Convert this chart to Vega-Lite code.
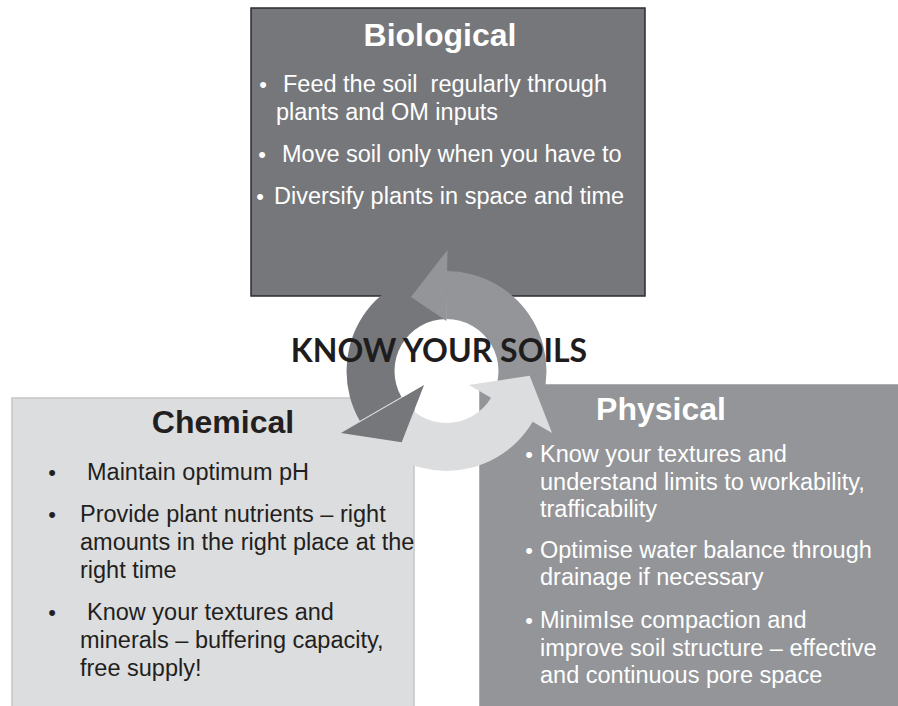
{
  "$schema": "https://vega.github.io/schema/vega-lite/v6.json",
  "width": 898,
  "height": 706,
  "autosize": "none",
  "padding": 0,
  "background": "#ffffff",
  "config": {"view": {"stroke": null}},
  "datasets": {
    "boxes": [
      {"box": "Biological", "x1": 251, "x2": 645, "y1": 8, "y2": 296},
      {"box": "Chemical", "x1": 12, "x2": 414, "y1": 398, "y2": 712},
      {"box": "Physical", "x1": 480, "x2": 904, "y1": 385, "y2": 712}
    ],
    "shafts": [
      {"arrow": "Dark", "cx": 446.5, "cy": 371, "start": 240, "end": 360, "outer": 100, "inner": 52},
      {"arrow": "Light", "cx": 446.5, "cy": 371, "start": 120, "end": 240, "outer": 100, "inner": 52},
      {"arrow": "Medium", "cx": 446.5, "cy": 371, "start": 0, "end": 120, "outer": 100, "inner": 52}
    ],
    "heads": [
      {"arrow": "Dark", "x": 382.5, "y": 409, "theta": 240},
      {"arrow": "Light", "x": 510.5, "y": 409, "theta": 120},
      {"arrow": "Medium", "x": 446.5, "y": 295, "theta": 360}
    ],
    "texts": [
      {"box": "Center", "role": "center", "label": "KNOW YOUR SOILS", "x": 439, "y": 362},
      {"box": "Biological", "role": "title", "label": "Biological", "x": 440, "y": 46},
      {"box": "Chemical", "role": "title", "label": "Chemical", "x": 223, "y": 433},
      {"box": "Physical", "role": "title", "label": "Physical", "x": 661, "y": 420},
      {"box": "Biological", "role": "bullet", "label": "•", "x": 263, "y": 92},
      {"box": "Biological", "role": "body", "label": "Feed the soil\u00a0 regularly through", "x": 283, "y": 92},
      {"box": "Biological", "role": "body", "label": "plants and OM inputs", "x": 276, "y": 120},
      {"box": "Biological", "role": "bullet", "label": "•", "x": 262, "y": 162},
      {"box": "Biological", "role": "body", "label": "Move soil only when you have to", "x": 282, "y": 162},
      {"box": "Biological", "role": "bullet", "label": "•", "x": 260, "y": 204},
      {"box": "Biological", "role": "body", "label": "Diversify plants in space and time", "x": 274, "y": 204},
      {"box": "Chemical", "role": "bullet", "label": "•", "x": 52, "y": 480},
      {"box": "Chemical", "role": "body", "label": "Maintain optimum pH", "x": 87, "y": 480},
      {"box": "Chemical", "role": "bullet", "label": "•", "x": 52, "y": 522},
      {"box": "Chemical", "role": "body", "label": "Provide plant nutrients – right", "x": 80, "y": 522},
      {"box": "Chemical", "role": "body", "label": "amounts in the right place at the", "x": 80, "y": 550},
      {"box": "Chemical", "role": "body", "label": "right time", "x": 80, "y": 578},
      {"box": "Chemical", "role": "bullet", "label": "•", "x": 52, "y": 620},
      {"box": "Chemical", "role": "body", "label": "Know your textures and", "x": 87, "y": 620},
      {"box": "Chemical", "role": "body", "label": "minerals – buffering capacity,", "x": 80, "y": 648},
      {"box": "Chemical", "role": "body", "label": "free supply!", "x": 80, "y": 676},
      {"box": "Physical", "role": "bullet", "label": "•", "x": 529, "y": 462},
      {"box": "Physical", "role": "body", "label": "Know your textures and", "x": 540, "y": 462},
      {"box": "Physical", "role": "body", "label": "understand limits to workability,", "x": 540, "y": 490},
      {"box": "Physical", "role": "body", "label": "trafficability", "x": 540, "y": 517},
      {"box": "Physical", "role": "bullet", "label": "•", "x": 529, "y": 558},
      {"box": "Physical", "role": "body", "label": "Optimise water balance through", "x": 540, "y": 558},
      {"box": "Physical", "role": "body", "label": "drainage if necessary", "x": 540, "y": 585},
      {"box": "Physical", "role": "bullet", "label": "•", "x": 529, "y": 628},
      {"box": "Physical", "role": "body", "label": "MinimIse compaction and", "x": 540, "y": 628},
      {"box": "Physical", "role": "body", "label": "improve soil structure – effective", "x": 540, "y": 656},
      {"box": "Physical", "role": "body", "label": "and continuous pore space", "x": 540, "y": 683}
    ]
  },
  "layer": [
    {
      "data": {"name": "boxes"},
      "mark": {"type": "rect", "strokeWidth": 1.5},
      "encoding": {
        "x": {"field": "x1", "type": "quantitative", "scale": {"domain": [0, 898], "nice": false, "zero": false}, "axis": null},
        "x2": {"field": "x2"},
        "y": {"field": "y1", "type": "quantitative", "scale": {"domain": [0, 706], "nice": false, "zero": false, "reverse": true}, "axis": null},
        "y2": {"field": "y2"},
        "fill": {"field": "box", "type": "nominal", "scale": {"domain": ["Biological", "Chemical", "Physical"], "range": ["#76777a", "#dcdddf", "#939598"]}, "legend": null},
        "stroke": {"field": "box", "type": "nominal", "scale": {"domain": ["Biological", "Chemical", "Physical"], "range": ["#2d2d2f", "#c4c5c7", "#939598"]}, "legend": null}
      }
    },
    {
      "data": {"name": "shafts"},
      "mark": {"type": "arc"},
      "encoding": {
        "x": {"field": "cx", "type": "quantitative", "scale": {"domain": [0, 898], "nice": false, "zero": false}, "axis": null},
        "y": {"field": "cy", "type": "quantitative", "scale": {"domain": [0, 706], "nice": false, "zero": false, "reverse": true}, "axis": null},
        "theta": {"field": "start", "type": "quantitative", "stack": null, "scale": {"type": "linear", "domain": [0, 360], "range": [0, 6.283185307179586]}},
        "theta2": {"field": "end"},
        "radius": {"field": "outer", "type": "quantitative", "scale": {"type": "linear", "domain": [0, 100], "range": [0, 100], "zero": true}},
        "radius2": {"field": "inner"},
        "fill": {"field": "arrow", "type": "nominal", "scale": {"domain": ["Dark", "Light", "Medium"], "range": ["#76777a", "#dcdddf", "#939598"]}, "legend": null}
      }
    },
    {
      "data": {"name": "heads"},
      "transform": [{"filter": "datum.arrow !== 'Medium'"}],
      "mark": {"type": "point", "shape": "M-1,0L1,0L0,-0.8Z", "size": 9216, "filled": true, "opacity": 1, "strokeWidth": 0},
      "encoding": {
        "x": {"field": "x", "type": "quantitative", "scale": {"domain": [0, 898], "nice": false, "zero": false}, "axis": null},
        "y": {"field": "y", "type": "quantitative", "scale": {"domain": [0, 706], "nice": false, "zero": false, "reverse": true}, "axis": null},
        "angle": {"field": "theta", "type": "quantitative", "scale": {"domain": [90, 450], "range": [0, 360], "zero": false}},
        "fill": {"field": "arrow", "type": "nominal", "scale": {"domain": ["Dark", "Light", "Medium"], "range": ["#76777a", "#dcdddf", "#939598"]}, "legend": null}
      }
    },
    {
      "data": {"name": "heads"},
      "transform": [{"filter": "datum.arrow === 'Medium'"}],
      "mark": {"type": "point", "shape": "M-0.54,0L0.94,0.02L-0.04,-0.74Z", "size": 9216, "filled": true, "opacity": 1, "strokeWidth": 0},
      "encoding": {
        "x": {"field": "x", "type": "quantitative", "scale": {"domain": [0, 898], "nice": false, "zero": false}, "axis": null},
        "y": {"field": "y", "type": "quantitative", "scale": {"domain": [0, 706], "nice": false, "zero": false, "reverse": true}, "axis": null},
        "angle": {"field": "theta", "type": "quantitative", "scale": {"domain": [90, 450], "range": [0, 360], "zero": false}},
        "fill": {"field": "arrow", "type": "nominal", "scale": {"domain": ["Dark", "Light", "Medium"], "range": ["#76777a", "#dcdddf", "#939598"]}, "legend": null}
      }
    },
    {
      "data": {"name": "texts"},
      "transform": [{"filter": "datum.role === 'center'"}],
      "mark": {"type": "text", "font": "Lato", "fontWeight": "bold", "fontSize": 32, "align": "center", "baseline": "alphabetic"},
      "encoding": {
        "x": {"field": "x", "type": "quantitative", "scale": {"domain": [0, 898], "nice": false, "zero": false}, "axis": null},
        "y": {"field": "y", "type": "quantitative", "scale": {"domain": [0, 706], "nice": false, "zero": false, "reverse": true}, "axis": null},
        "text": {"field": "label"},
        "color": {"field": "box", "type": "nominal", "scale": {"domain": ["Center", "Biological", "Chemical", "Physical"], "range": ["#1f1c1d", "#ffffff", "#231f20", "#ffffff"]}, "legend": null}
      }
    },
    {
      "data": {"name": "texts"},
      "transform": [{"filter": "datum.role === 'title'"}],
      "mark": {"type": "text", "font": "Liberation Sans", "fontWeight": "bold", "fontSize": 32, "align": "center", "baseline": "alphabetic"},
      "encoding": {
        "x": {"field": "x", "type": "quantitative", "scale": {"domain": [0, 898], "nice": false, "zero": false}, "axis": null},
        "y": {"field": "y", "type": "quantitative", "scale": {"domain": [0, 706], "nice": false, "zero": false, "reverse": true}, "axis": null},
        "text": {"field": "label"},
        "color": {"field": "box", "type": "nominal", "scale": {"domain": ["Center", "Biological", "Chemical", "Physical"], "range": ["#1f1c1d", "#ffffff", "#231f20", "#ffffff"]}, "legend": null}
      }
    },
    {
      "data": {"name": "texts"},
      "transform": [{"filter": "datum.role === 'body'"}],
      "mark": {"type": "text", "font": "Liberation Sans", "fontSize": 23.5, "align": "left", "baseline": "alphabetic"},
      "encoding": {
        "x": {"field": "x", "type": "quantitative", "scale": {"domain": [0, 898], "nice": false, "zero": false}, "axis": null},
        "y": {"field": "y", "type": "quantitative", "scale": {"domain": [0, 706], "nice": false, "zero": false, "reverse": true}, "axis": null},
        "text": {"field": "label"},
        "color": {"field": "box", "type": "nominal", "scale": {"domain": ["Center", "Biological", "Chemical", "Physical"], "range": ["#1f1c1d", "#ffffff", "#231f20", "#ffffff"]}, "legend": null}
      }
    },
    {
      "data": {"name": "texts"},
      "transform": [{"filter": "datum.role === 'bullet'"}],
      "mark": {"type": "text", "font": "Liberation Sans", "fontSize": 22, "align": "center", "baseline": "alphabetic"},
      "encoding": {
        "x": {"field": "x", "type": "quantitative", "scale": {"domain": [0, 898], "nice": false, "zero": false}, "axis": null},
        "y": {"field": "y", "type": "quantitative", "scale": {"domain": [0, 706], "nice": false, "zero": false, "reverse": true}, "axis": null},
        "text": {"field": "label"},
        "color": {"field": "box", "type": "nominal", "scale": {"domain": ["Center", "Biological", "Chemical", "Physical"], "range": ["#1f1c1d", "#ffffff", "#231f20", "#ffffff"]}, "legend": null}
      }
    }
  ],
  "resolve": {"scale": {"fill": "independent", "stroke": "independent", "color": "independent"}}
}
